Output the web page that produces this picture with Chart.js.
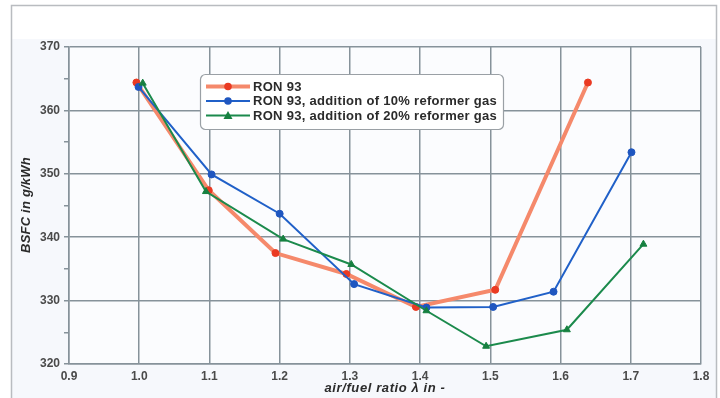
<!DOCTYPE html>
<html>
<head>
<meta charset="utf-8">
<script src="https://cdn.jsdelivr.net/npm/chart.js@4"></script>
<style>
html,body{margin:0;padding:0;background:#fff;}
#wrap{width:720px;height:398px;position:relative;}
</style>
</head>
<body>
<div id="wrap"><canvas id="c" width="720" height="398"></canvas></div>
<script>
// Data
const seriesLabels = ["RON 93", "RON 93, addition of 10% reformer gas", "RON 93, addition of 20% reformer gas"];
const ron93X = [0.996, 1.099, 1.194, 1.295, 1.394, 1.507, 1.639];
const ron93Y = [364.4, 347.4, 337.5, 334.2, 329.0, 331.7, 364.4];
const ref10X = [0.999, 1.103, 1.200, 1.306, 1.409, 1.504, 1.590, 1.701];
const ref10Y = [363.7, 349.9, 343.7, 332.6, 328.9, 329.0, 331.4, 353.4];
const ref20X = [1.005, 1.095, 1.205, 1.302, 1.409, 1.494, 1.609, 1.718];
const ref20Y = [364.3, 347.2, 339.7, 335.7, 328.4, 322.8, 325.4, 338.9];
const xTicks = [0.9, 1.0, 1.1, 1.2, 1.3, 1.4, 1.5, 1.6, 1.7, 1.8];
const yTicks = [320, 330, 340, 350, 360, 370];
const xTitle = "air/fuel ratio \u03bb in -";
const yTitle = "BSFC in g/kWh";

const pts = (xs, ys) => xs.map((x, i) => ({x: x, y: ys[i]}));
const FONT = "'Liberation Sans', Arial, sans-serif";
const GRID = "#86929a";

const bgPlugin = {
  id: 'bg',
  beforeDraw(chart) {
    const ctx = chart.ctx;
    ctx.save();
    ctx.fillStyle = '#ffffff';
    ctx.fillRect(0, 0, chart.width, chart.height);
    ctx.fillStyle = '#f6f8fc';
    ctx.fillRect(12, 39, 704, chart.height - 39);
    const a = chart.chartArea;
    ctx.fillStyle = '#fbfcfe';
    ctx.fillRect(a.left, a.top, a.right - a.left, a.bottom - a.top);
    ctx.strokeStyle = '#b9bcc0';
    ctx.lineWidth = 1.5;
    ctx.beginPath();
    ctx.moveTo(11.5, chart.height + 2);
    ctx.lineTo(11.5, 5.5);
    ctx.lineTo(716.5, 5.5);
    ctx.lineTo(716.5, chart.height + 2);
    ctx.stroke();
    ctx.restore();
  },
  afterDraw(chart) {
    const ctx = chart.ctx;
    const a = chart.chartArea;
    ctx.save();
    ctx.fillStyle = '#2b2b2b';
    ctx.textAlign = 'center';
    ctx.textBaseline = 'middle';
    ctx.font = "italic bold 13px " + FONT;
    if ('letterSpacing' in ctx) ctx.letterSpacing = '0.6px';
    ctx.fillText(xTitle, 385, 388);
    if ('letterSpacing' in ctx) ctx.letterSpacing = '0.2px';
    ctx.translate(26, 205);
    ctx.rotate(-Math.PI / 2);
    ctx.fillText(yTitle, 0, 0);
    ctx.restore();
  }
};

const legendPlugin = {
  id: 'boxLegend',
  afterDatasetsDraw(chart) {
    const ctx = chart.ctx;
    const x0 = 200, y0 = 74, w = 303, h = 55;
    ctx.save();
    ctx.fillStyle = '#ffffff';
    ctx.strokeStyle = '#9aa0a5';
    ctx.lineWidth = 1.2;
    ctx.beginPath();
    ctx.roundRect(x0 + 0.5, y0 + 0.5, w, h, 5);
    ctx.fill();
    ctx.stroke();
    ctx.font = "bold 13px " + FONT;
    if ('letterSpacing' in ctx) ctx.letterSpacing = '0.3px';
    ctx.textBaseline = 'middle';
    chart.data.datasets.forEach((ds, i) => {
      const y = y0 + 12.5 + i * 14.5;
      ctx.strokeStyle = ds.borderColor;
      ctx.lineWidth = ds.borderWidth;
      ctx.beginPath();
      ctx.moveTo(x0 + 6, y);
      ctx.lineTo(x0 + 50, y);
      ctx.stroke();
      ctx.fillStyle = ds.pointBackgroundColor;
      const cx = x0 + 28;
      if (ds.pointStyle === 'triangle') {
        ctx.beginPath();
        ctx.moveTo(cx, y - 4.5);
        ctx.lineTo(cx + 4.5, y + 3.5);
        ctx.lineTo(cx - 4.5, y + 3.5);
        ctx.closePath();
        ctx.fill();
      } else {
        ctx.beginPath();
        ctx.arc(cx, y, 3.8, 0, Math.PI * 2);
        ctx.fill();
      }
      ctx.fillStyle = '#2b2b2b';
      ctx.fillText(ds.label, x0 + 53, y + 0.5);
    });
    ctx.restore();
  }
};

new Chart(document.getElementById('c'), {
  type: 'scatter',
  data: {
    datasets: [
      {
        label: seriesLabels[0],
        data: pts(ron93X, ron93Y),
        showLine: true,
        borderColor: '#f5896b',
        borderWidth: 4,
        pointBackgroundColor: '#ea3a22',
        pointBorderColor: '#ea3a22',
        pointBorderWidth: 1,
        pointRadius: 3.5,
        pointStyle: 'circle',
        order: 3
      },
      {
        label: seriesLabels[1],
        data: pts(ref10X, ref10Y),
        showLine: true,
        borderColor: '#2060c8',
        borderWidth: 2,
        pointBackgroundColor: '#1f56c0',
        pointBorderColor: '#1f56c0',
        pointBorderWidth: 1,
        pointRadius: 3.5,
        pointStyle: 'circle',
        order: 2
      },
      {
        label: seriesLabels[2],
        data: pts(ref20X, ref20Y),
        showLine: true,
        borderColor: '#1b8a4c',
        borderWidth: 2,
        pointBackgroundColor: '#168040',
        pointBorderColor: '#168040',
        pointBorderWidth: 1,
        pointRadius: 4,
        pointStyle: 'triangle',
        order: 1
      }
    ]
  },
  options: {
    responsive: false,
    animation: false,
    layout: {padding: {left: 18, right: 19, top: 47, bottom: 0}},
    plugins: {
      legend: {display: false},
      tooltip: {enabled: false}
    },
    scales: {
      x: {
        type: 'linear',
        min: 0.9, max: 1.8,
        afterBuildTicks(scale) { scale.ticks = xTicks.map(v => ({value: v})); },
        afterFit(scale) { scale.height = 34; },
        grid: {color: GRID, lineWidth: 1.5, tickLength: 0, drawTicks: false},
        border: {color: GRID, width: 1.5},
        ticks: {
          color: '#4a4a4a',
          padding: 5,
          font: {family: FONT, size: 12, weight: 'bold'},
          callback: v => Number(v).toFixed(1),
          maxRotation: 0
        },
        title: {display: false}
      },
      y: {
        type: 'linear',
        min: 320, max: 370,
        afterBuildTicks(scale) {
          const t = [];
          for (let v = 320; v <= 370; v += 5) t.push({value: v});
          scale.ticks = t;
        },
        afterFit(scale) { scale.width = 51; },
        grid: {
          color: ctx => (ctx.tick && ctx.tick.value % 10 === 0) ? GRID : 'rgba(0,0,0,0)',
          tickColor: GRID,
          lineWidth: 1.5,
          tickLength: 5
        },
        border: {color: GRID, width: 1.5},
        ticks: {
          color: '#4a4a4a',
          padding: 4,
          font: {family: FONT, size: 12, weight: 'bold'},
          callback: v => yTicks.includes(v) ? String(v) : ''
        },
        title: {display: false}
      }
    }
  },
  plugins: [bgPlugin, legendPlugin]
});
</script>
</body>
</html>
